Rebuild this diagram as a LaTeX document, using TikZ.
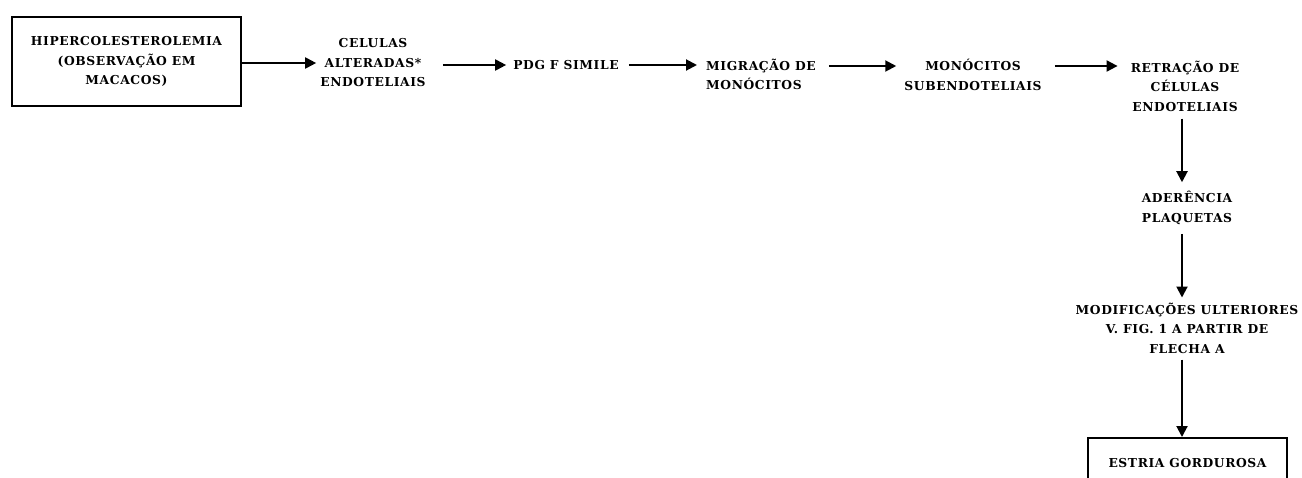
\documentclass[tikz,border=0pt]{standalone}
\usepackage{fontspec}
\usetikzlibrary{arrows.meta}
\newfontfamily\lblfont{DejaVu Serif}[LetterSpace=5]
\begin{document}
\begin{tikzpicture}[x=1pt,y=-1pt,
  lbl/.style={font=\lblfont\bfseries\fontsize{12.3}{19.5}\selectfont, align=center, inner sep=0pt},
  arr/.style={line width=2pt, -{Triangle[length=11pt,width=11pt]}},
  boxed/.style={draw, line width=1.7pt}]
\useasboundingbox (0,0) rectangle (1302,477);
\clip (0,0) rectangle (1302,477);
\node[lbl, boxed, minimum width=229pt, minimum height=89pt] (hip) at (126.5,61.5) {HIPERCOLESTEROLEMIA\\(OBSERVAÇÃO EM\\MACACOS)};
\node[lbl] (cel) at (373,63) {CELULAS\\ALTERADAS*\\ENDOTELIAIS};
\node[lbl] (pdg) at (566,65) {PDG F SIMILE};
\node[lbl, align=left, anchor=west] (mig) at (706,74.5) {MIGRAÇÃO DE\\MONÓCITOS};
\node[lbl] (mon) at (973,75) {MONÓCITOS\\SUBENDOTELIAIS};
\node[lbl] (ret) at (1185,86) {RETRAÇÃO DE\\CÉLULAS\\ENDOTELIAIS};
\node[lbl] (ade) at (1187,208) {ADERÊNCIA\\PLAQUETAS};
\node[lbl] (mod) at (1187,328) {MODIFICAÇÕES ULTERIORES\\V. FIG. 1 A PARTIR DE\\FLECHA A};
\node[lbl, boxed, minimum width=199pt, minimum height=50pt, anchor=north] (est) at (1187.5,437) {ESTRIA GORDUROSA};
\coordinate (r1) at (0,63);
\coordinate (r2) at (0,65);
\coordinate (r3) at (0,66);
\coordinate (vx) at (1182,0);
\draw[arr, shorten >=4pt] (hip.east|-r1) -- (cel.west|-r1);
\draw[arr, shorten <=17pt, shorten >=7pt] (cel.east|-r2) -- (pdg.west|-r2);
\draw[arr, shorten <=10pt, shorten >=9pt] (pdg.east|-r2) -- (mig.west|-r2);
\draw[arr, shorten <=13pt, shorten >=8pt] (mig.east|-r3) -- (mon.west|-r3);
\draw[arr, shorten <=13pt, shorten >=13pt] (mon.east|-r3) -- (ret.west|-r3);
\draw[arr, shorten <=7pt, shorten >=9pt] (ret.south-|vx) -- (ade.north-|vx);
\draw[arr, shorten <=9pt, shorten >=5pt] (ade.south-|vx) -- (mod.north-|vx);
\draw[arr, shorten <=6pt] (mod.south-|vx) -- (est.north-|vx);
\end{tikzpicture}
\end{document}
